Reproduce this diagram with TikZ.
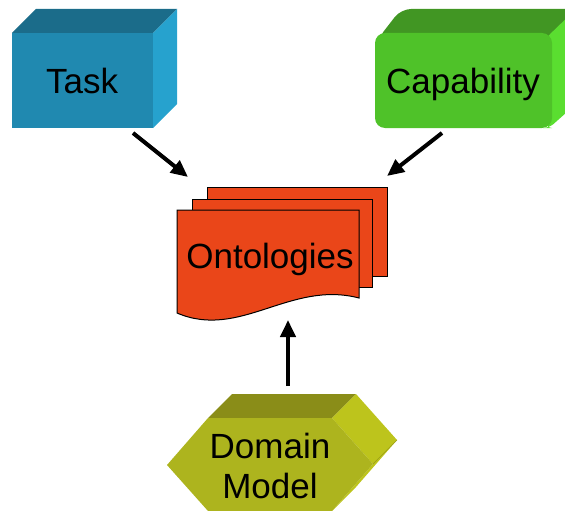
\documentclass[tikz,border=0pt]{standalone}
\usepackage{fontspec}
\setmainfont{Liberation Sans}
\usetikzlibrary{arrows.meta}

\definecolor{taskfront}{RGB}{32,137,176}
\definecolor{tasktop}{RGB}{27,108,138}
\definecolor{taskside}{RGB}{38,162,206}
\definecolor{capfront}{RGB}{79,194,41}
\definecolor{captop}{RGB}{65,150,35}
\definecolor{capside}{RGB}{90,222,48}
\definecolor{ontofill}{RGB}{234,70,25}
\definecolor{domfront}{RGB}{173,180,30}
\definecolor{domtop}{RGB}{138,141,24}
\definecolor{domside}{RGB}{189,196,28}

\tikzset{
  label text/.style={font=\fontsize{35}{40}\selectfont, text=black, inner sep=0pt},
  sheet/.style={fill=ontofill, draw=black, line width=1pt, line join=miter},
  link/.style={line width=4pt, -{Triangle[length=17pt, width=15pt]}},
}

\begin{document}
\begin{tikzpicture}[x=1pt, y=-1pt]
  \useasboundingbox (0,0) rectangle (565,511);
  \clip (0,0) rectangle (565,511);

  % Task block
  \fill[tasktop] (12,33) -- (36,9) -- (177,9) -- (153,33) -- cycle;
  \fill[taskside] (153,33) -- (177,9) -- (177,104) -- (153,128) -- cycle;
  \fill[taskfront] (12,33) rectangle (153,128);
  \node[label text, anchor=base] (task) at (82,93) {Task};

  % Capability block (rounded)
  \fill[captop, rounded corners=10pt] (377,40) -- (401,9) -- (590,9) -- (560,40) -- cycle;
  \fill[capside, rounded corners=6pt] (546,38) -- (576,9) -- (576,104) -- (549,128) -- (546,128) -- cycle;
  \fill[capfront, rounded corners=10pt] (375,33) rectangle (552,128);
  \node[label text, anchor=base] (capability) at (463,93) {Capability};

  % Stack of ontology sheets
  \draw[sheet] (207,187) rectangle (387,276);
  \draw[sheet] (192,199) rectangle (372,287);
  \draw[sheet] (177,210) -- (359,210) -- (359,298)
       .. controls (290,280) and (240,340) .. (177,313) -- cycle;
  \node[label text, anchor=base] (onto) at (270,268) {Ontologies};

  % Domain Model hexagonal block
  \fill[domtop] (208,418) -- (232,394) -- (356,394) -- (332,418) -- cycle;
  \fill[domside] (332,418) -- (356,394) -- (397,440) -- (356,487) -- (332,511) -- (373,464) -- cycle;
  \draw[domtop!70!domside, line width=0.6pt] (373,464) -- (397,440);
  \fill[domfront] (167,465) -- (208,418) -- (332,418) -- (373,464) -- (332,511) -- (208,511) -- cycle;
  \node[label text, align=center] (domain) at (270,465.5) {Domain\\Model};

  % Connectors
  \coordinate (taskout) at (133,133);
  \coordinate (ontoinA) at (188,177);
  \coordinate (capout) at (442,133);
  \coordinate (ontoinB) at (387,176);
  \coordinate (domout) at (288,386);
  \coordinate (ontoinC) at (288,320);
  \draw[link] (taskout) -- (ontoinA);
  \draw[link] (capout) -- (ontoinB);
  \draw[link] (domout) -- (ontoinC);
\end{tikzpicture}
\end{document}
